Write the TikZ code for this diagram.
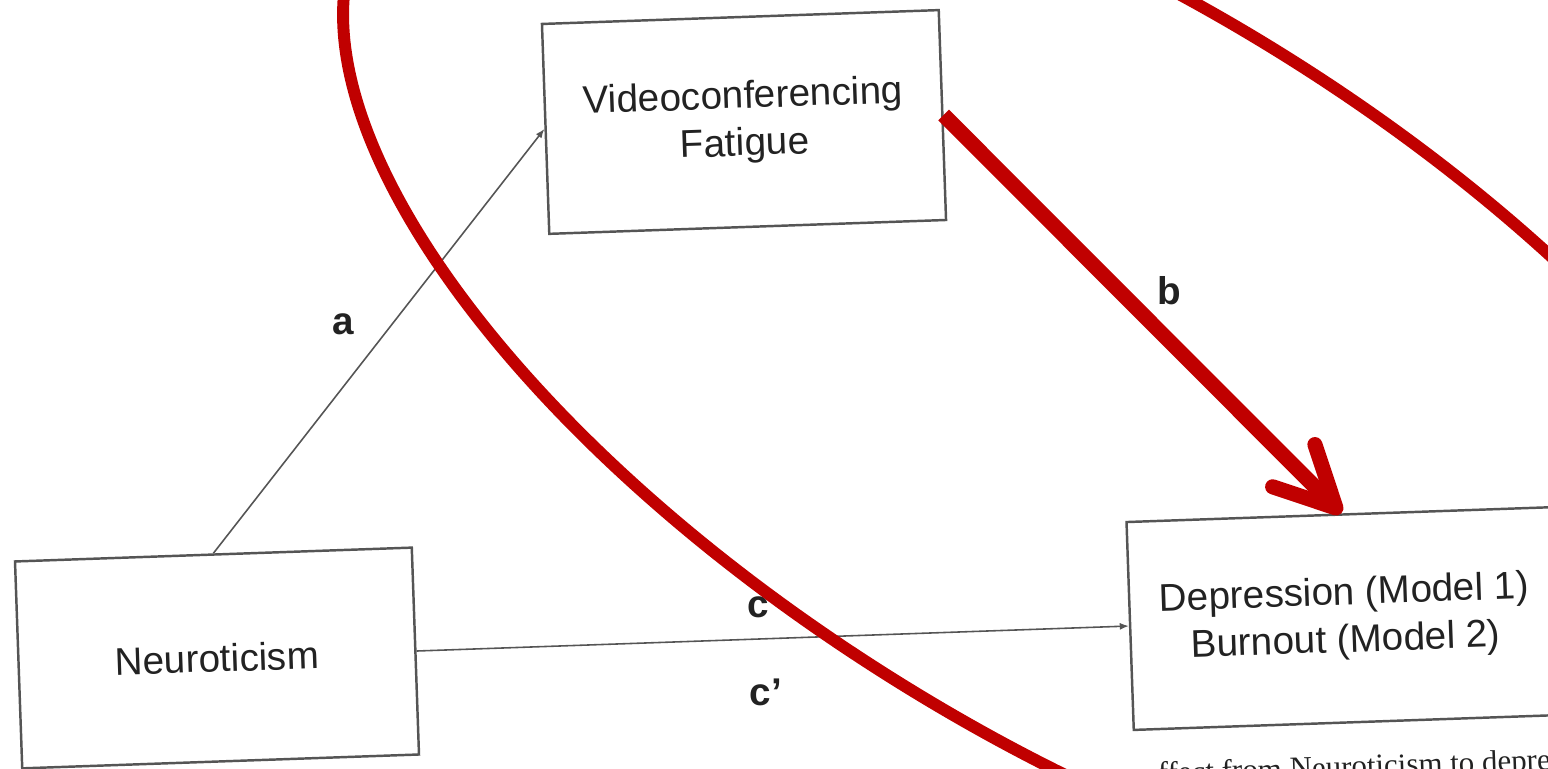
\documentclass[tikz,border=0pt]{standalone}
\usepackage{fontspec}
\setmainfont{Liberation Serif}
\setsansfont{Liberation Sans}
\usepackage{tikz}
\usetikzlibrary{arrows.meta,positioning}
\definecolor{inkgrey}{HTML}{222222}
\definecolor{boxgrey}{HTML}{555555}
\definecolor{penred}{HTML}{C00000}

\begin{document}
\begin{tikzpicture}[
    box/.style={draw=boxgrey, line width=0.7pt, rotate=2, minimum width=3.97cm,
                minimum height=2.07cm, align=center, text=inkgrey,
                font=\sffamily\fontsize{11}{13.5}\selectfont},
    link/.style={draw=boxgrey, line width=0.45pt, -{Latex[length=2.6pt,width=2pt]}},
    lab/.style={font=\sffamily\bfseries\fontsize{11}{13}\selectfont, text=inkgrey},
    pen/.style={draw=penred, line width=3.4pt}]
    \useasboundingbox (0,0) rectangle (15.48,7.69);
    \clip (0,0) rectangle (15.48,7.69);
    \node[box] (neu) at (2.17,1.11) {Neuroticism};
    \node[box, minimum height=2.1cm] (vid) at (7.44,6.47) {Videoconferencing\\Fatigue};
    \node[box, minimum width=4.3cm, minimum height=2.08cm] (dep) at (13.45,1.505)
        {Depression (Model 1)\\Burnout (Model 2)};
    \draw[link] (neu.north) -- node[lab, pos=.54, left=2.6mm] {a} (vid.west);
    \draw[link] (vid.east) -- node[lab, pos=.44, right=2.6mm] {b} (dep.north);
    \draw[link] (neu.east) -- node[lab, pos=.48, above=0.9mm] {c}
        node[lab, pos=.49, below=2.8mm] {c’} (dep.west);
    \node[font=\rmfamily\fontsize{8.8}{10}\selectfont, text=inkgrey, anchor=base west,
          rotate=2] (cap) at (11.46,-0.15) {ffect from Neuroticism to depress};
    \draw[pen, rotate around={-32:(10.90,4.01)}] (10.90,4.01) ellipse (8.5 and 3.68);
    \draw[pen, line width=4.3pt, -{Straight Barb[length=17pt, width=17pt, line cap=round,
          line join=round]}] (vid.east) -- (dep.north);
\end{tikzpicture}
\end{document}
